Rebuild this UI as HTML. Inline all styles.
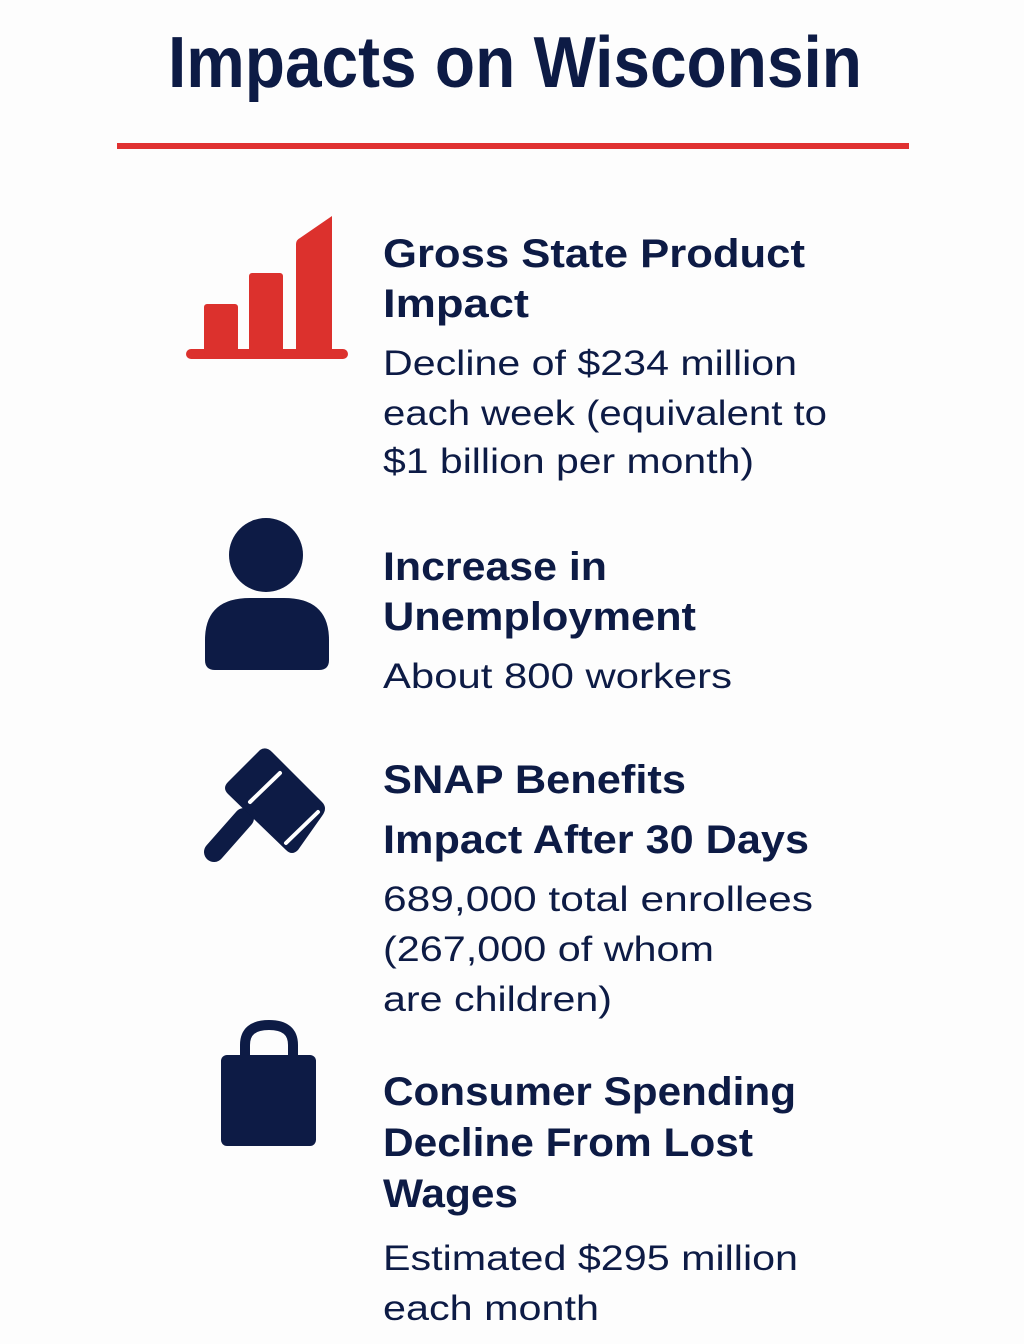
<!DOCTYPE html>
<html><head><meta charset="utf-8"><style>
html,body{margin:0;padding:0;background:#fdfdfd;}
svg{display:block}
.h{font-family:"Liberation Sans",sans-serif;font-weight:bold;font-size:40px;fill:#0d1b45}
.b{font-family:"Liberation Sans",sans-serif;font-size:35px;fill:#0d1b45}
</style></head><body>
<svg width="1024" height="1344" viewBox="0 0 1024 1344" xmlns="http://www.w3.org/2000/svg">
<rect width="1024" height="1344" fill="#fdfdfd"/>
<text x="168" y="87" textLength="694" lengthAdjust="spacingAndGlyphs" font-family="Liberation Sans, sans-serif" font-weight="bold" font-size="72" fill="#0d1b45">Impacts on Wisconsin</text>
<rect x="117" y="143" width="792" height="6" fill="#e03131"/>

<!-- bar chart icon -->
<g fill="#dc312d">
<rect x="186" y="349" width="162" height="10" rx="5"/>
<rect x="204" y="304" width="34" height="50" rx="3"/>
<rect x="249" y="273" width="34" height="81" rx="3"/>
<path d="M296 244 Q296 240 300 238 L332 216 L332 354 L296 354 Z"/>
</g>

<!-- person icon -->
<g fill="#0d1b45">
<circle cx="266" cy="555" r="37"/>
<path d="M205 640 Q205 598 250 598 L284 598 Q329 598 329 640 L329 660 Q329 670 319 670 L215 670 Q205 670 205 660 Z"/>
</g>

<!-- gavel icon -->
<g>
<line x1="244" y1="818" x2="214" y2="852" stroke="#0d1b45" stroke-width="20" stroke-linecap="round"/>
<path d="M260 750 Q266 746 272 752 L322 802 Q328 808 322 816 L298 850 Q292 856 286 850 L228 794 Q222 788 228 782 Z" fill="#0d1b45"/>
<line x1="280" y1="773" x2="250" y2="802" stroke="#fff" stroke-width="4" stroke-linecap="round"/>
<line x1="318" y1="812" x2="286" y2="843" stroke="#fff" stroke-width="4" stroke-linecap="round"/>
</g>

<!-- bag icon -->
<g>
<path d="M245 1060 L245 1045 Q245 1025 269 1025 Q293 1025 293 1045 L293 1060" fill="none" stroke="#0d1b45" stroke-width="10"/>
<rect x="221" y="1055" width="95" height="91" rx="6" fill="#0d1b45"/>
</g>

<text class="h" x="383" y="267" textLength="422" lengthAdjust="spacingAndGlyphs">Gross State Product</text>
<text class="h" x="383" y="317" textLength="146" lengthAdjust="spacingAndGlyphs">Impact</text>
<text class="b" x="383" y="375" textLength="414" lengthAdjust="spacingAndGlyphs">Decline of $234 million</text>
<text class="b" x="383" y="425" textLength="444" lengthAdjust="spacingAndGlyphs">each week (equivalent to</text>
<text class="b" x="383" y="473" textLength="371" lengthAdjust="spacingAndGlyphs">$1 billion per month)</text>

<text class="h" x="383" y="580" textLength="224" lengthAdjust="spacingAndGlyphs">Increase in</text>
<text class="h" x="383" y="630" textLength="313" lengthAdjust="spacingAndGlyphs">Unemployment</text>
<text class="b" x="383" y="688" textLength="349" lengthAdjust="spacingAndGlyphs">About 800 workers</text>

<text class="h" x="383" y="793" textLength="303" lengthAdjust="spacingAndGlyphs">SNAP Benefits</text>
<text class="h" x="383" y="853" textLength="426" lengthAdjust="spacingAndGlyphs">Impact After 30 Days</text>
<text class="b" x="383" y="911" textLength="430" lengthAdjust="spacingAndGlyphs">689,000 total enrollees</text>
<text class="b" x="383" y="961" textLength="331" lengthAdjust="spacingAndGlyphs">(267,000 of whom</text>
<text class="b" x="383" y="1011" textLength="229" lengthAdjust="spacingAndGlyphs">are children)</text>

<text class="h" x="383" y="1105" textLength="413" lengthAdjust="spacingAndGlyphs">Consumer Spending</text>
<text class="h" x="383" y="1156" textLength="370" lengthAdjust="spacingAndGlyphs">Decline From Lost</text>
<text class="h" x="383" y="1207" textLength="135" lengthAdjust="spacingAndGlyphs">Wages</text>
<text class="b" x="383" y="1270" textLength="415" lengthAdjust="spacingAndGlyphs">Estimated $295 million</text>
<text class="b" x="383" y="1320" textLength="216" lengthAdjust="spacingAndGlyphs">each month</text>
</svg>
</body></html>
